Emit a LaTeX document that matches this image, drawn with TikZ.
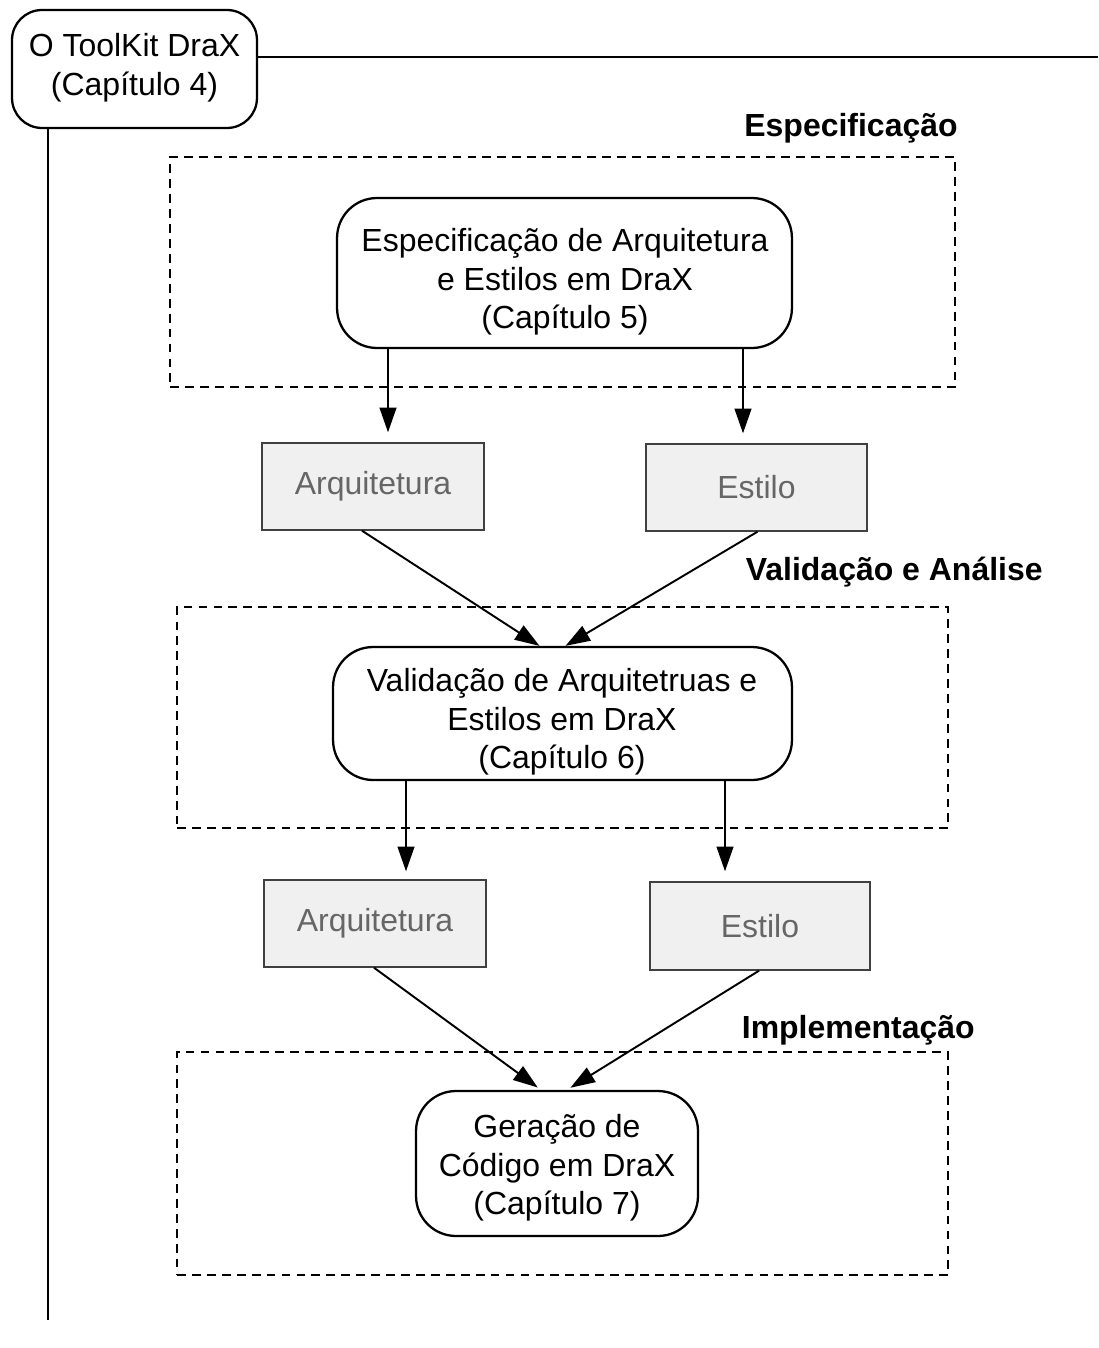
\documentclass[tikz,border=0pt]{standalone}
\usepackage{fontspec}
\setmainfont{Liberation Sans}
\usetikzlibrary{arrows.meta,calc}
\begin{document}
\begin{tikzpicture}[x=0.02cm,y=-0.02cm,
  txt/.style={font=\fontsize{18.2}{22}\selectfont, align=center, inner sep=0pt},
  procbox/.style={draw, line width=1.3pt, rounded corners=0.8cm, inner sep=0pt},
  artbox/.style={txt, draw=black!75, fill=gray!12, text=black!60, line width=0.8pt, inner sep=0pt},
  group/.style={draw, dash pattern=on 5pt off 3.5pt, line width=1.3pt, inner sep=0pt},
  phase/.style={font=\fontsize{18.2}{22}\selectfont\bfseries, anchor=east, inner sep=0pt},
  arr/.style={-{Triangle[length=14pt,width=9.5pt]}, line width=1.1pt},
  link/.style={line width=1.1pt}]
\useasboundingbox (0,0) rectangle (1098,1348);

% phase groups
\node[group, minimum width=15.7cm, minimum height=4.6cm] (g1) at (562.5,272) {};
\node[group, minimum width=15.42cm, minimum height=4.42cm] (g2) at (562.5,717.5) {};
\node[group, minimum width=15.42cm, minimum height=4.46cm] (g3) at (562.5,1163.5) {};

\node[phase] (p1) at (958,128) {Especificação};
\node[phase] (p2) at (1043,572) {Validação e Análise};
\node[phase] (p3) at (975,1030) {Implementação};

% toolkit
\node[procbox, rounded corners=0.6cm, minimum width=4.9cm, minimum height=2.36cm] (tk) at (134.5,69) {};
\node[txt] (tk-t) at (134.5,67.5) {O ToolKit DraX\\(Capítulo 4)};
\coordinate (tkend) at (1098,57);
\coordinate (vend) at (48,1320);
\draw[link] (tk.east |- tkend) -- (tkend);
\draw[link] (tk.south -| vend) -- (vend);

% processes
\node[procbox, minimum width=9.1cm, minimum height=3.0cm] (spec) at (564.5,273) {};
\node[txt] (spec-t) at (565,282) {Especificação de Arquitetura\\e Estilos em DraX\\(Capítulo 5)};
\node[procbox, minimum width=9.18cm, minimum height=2.66cm] (valid) at (562.5,713.5) {};
\node[txt] (valid-t) at (562,722) {Validação de Arquitetruas e\\Estilos em DraX\\(Capítulo 6)};
\node[procbox, minimum width=5.64cm, minimum height=2.9cm] (gen) at (557,1163.5) {};
\node[txt] (gen-t) at (557,1168) {Geração de\\Código em DraX\\(Capítulo 7)};

% artefacts
\node[artbox, minimum width=4.44cm, minimum height=1.74cm] (arq1) at (373,486.5) {Arquitetura};
\node[artbox, minimum width=4.42cm, minimum height=1.74cm] (est1) at (756.5,487.5) {Estilo};
\node[artbox, minimum width=4.44cm, minimum height=1.74cm] (arq2) at (375,923.5) {Arquitetura};
\node[artbox, minimum width=4.4cm, minimum height=1.76cm] (est2) at (760,926) {Estilo};

% flows
\coordinate (xa) at (388,0);
\coordinate (xb) at (743,0);
\coordinate (xc) at (406,0);
\coordinate (xd) at (725,0);
\draw[arr, shorten >=0.2cm] (spec.south -| xa) -- (arq1.north -| xa);
\draw[arr, shorten >=0.2cm] (spec.south -| xb) -- (est1.north -| xb);
\draw[arr] ($(arq1.south)+(-11,0)$) -- ($(valid.north)+(-23,0)$);
\draw[arr] ($(est1.south)+(1,0)$) -- ($(valid.north)+(3,0)$);
\draw[arr, shorten >=0.16cm] (valid.south -| xc) -- (arq2.north -| xc);
\draw[arr, shorten >=0.2cm] (valid.south -| xd) -- (est2.north -| xd);
\draw[arr, shorten >=0.08cm] ($(arq2.south)+(-1,0)$) -- ($(gen.north)+(-16,0)$);
\draw[arr, shorten >=0.08cm] ($(est2.south)+(-1,0)$) -- ($(gen.north)+(10,0)$);
\end{tikzpicture}
\end{document}
